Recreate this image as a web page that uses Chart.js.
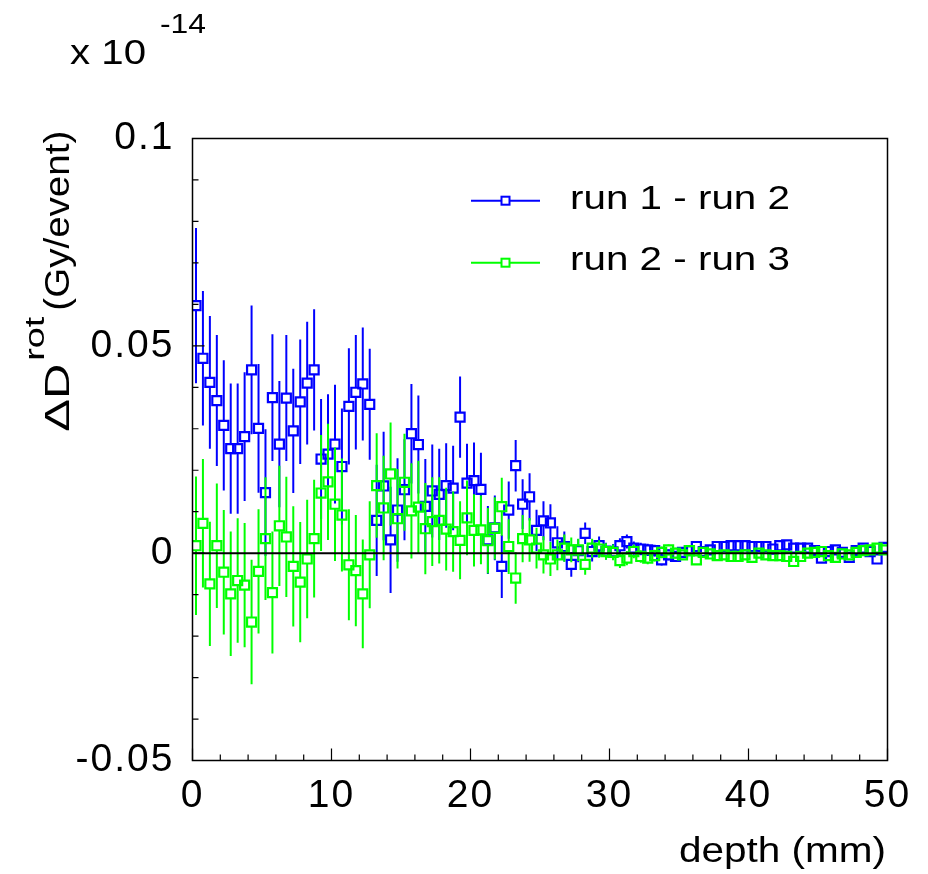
<!DOCTYPE html>
<html><head><meta charset="utf-8">
<script src="https://cdn.jsdelivr.net/npm/chart.js@4/dist/chart.umd.min.js"></script>
<style>html,body{margin:0;padding:0;background:#fff;}#wrap{width:928px;height:874px;}</style>
</head><body><div id="wrap"><canvas id="c" width="928" height="874"></canvas></div>
<script>
// bin centres (mm)
const depth = [0.25,0.75,1.25,1.75,2.25,2.75,3.25,3.75,4.25,4.75,5.25,5.75,6.25,6.75,7.25,7.75,8.25,8.75,9.25,9.75,
10.25,10.75,11.25,11.75,12.25,12.75,13.25,13.75,14.25,14.75,15.25,15.75,16.25,16.75,17.25,17.75,18.25,18.75,19.25,19.75,
20.25,20.75,21.25,21.75,22.25,22.75,23.25,23.75,24.25,24.75,25.25,25.75,26.25,26.75,27.25,27.75,28.25,28.75,29.25,29.75,
30.25,30.75,31.25,31.75,32.25,32.75,33.25,33.75,34.25,34.75,35.25,35.75,36.25,36.75,37.25,37.75,38.25,38.75,39.25,39.75,
40.25,40.75,41.25,41.75,42.25,42.75,43.25,43.75,44.25,44.75,45.25,45.75,46.25,46.75,47.25,47.75,48.25,48.75,49.25,49.75];

// run 1 - run 2 (x 1e-14 Gy/event)
const run12 = [0.0597,0.0470,0.0412,0.0368,0.0308,0.0252,0.0252,0.0281,0.0442,0.0301,
0.0146,0.0375,0.0263,0.0374,0.0295,0.0365,0.0410,0.0442,0.0227,0.0239,
0.0263,0.0209,0.0354,0.0388,0.0408,0.0359,0.0079,0.0162,0.0032,0.0104,
0.0153,0.0288,0.0262,0.0113,0.0150,0.0142,0.0163,0.0157,0.0328,0.0169,
0.0175,0.0154,0.0032,0.0061,-0.0032,0.0104,0.0211,0.0118,0.0136,0.0055,
0.0078,0.0073,0.0025,0.0016,-0.0027,0.0006,0.0048,0.0004,0.0018,0.0005,
0.0003,0.0018,0.0028,0.0012,0.0010,0.0008,0.0006,-0.0016,-0.0004,-0.0008,
0.0002,0.0006,0.0016,0.0004,0.0008,0.0016,0.0016,0.0018,0.0018,0.0018,
0.0016,0.0016,0.0016,0.0010,0.0018,0.0020,0.0012,0.0012,0.0012,0.0006,
-0.0012,0.0004,0.0008,0.0002,-0.0010,0.0006,0.0012,0.0004,-0.0014,0.0014];
const run12Err = [0.0187,0.0162,0.0160,0.0158,0.0157,0.0157,0.0157,0.0155,0.0155,0.0155,
0.0153,0.0153,0.0152,0.0152,0.0150,0.0150,0.0148,0.0146,0.0145,0.0144,
0.0143,0.0140,0.0140,0.0138,0.0136,0.0134,0.0134,0.0131,0.0128,0.0125,
0.0122,0.0120,0.0118,0.0114,0.0112,0.0110,0.0102,0.0102,0.0098,0.0095,
0.0092,0.0088,0.0082,0.0078,0.0076,0.0069,0.0062,0.0060,0.0057,0.0050,
0.0047,0.0045,0.0040,0.0036,0.0030,0.0028,0.0026,0.0024,0.0022,0.0020,
0.0019,0.0018,0.0017,0.0016,0.0015,0.0015,0.0014,0.0014,0.0013,0.0013,
0.0012,0.0012,0.0012,0.0011,0.0011,0.0011,0.0010,0.0010,0.0010,0.0010,
0.0010,0.0010,0.0010,0.0010,0.0010,0.0010,0.0010,0.0010,0.0010,0.0010,
0.0010,0.0010,0.0010,0.0010,0.0010,0.0010,0.0010,0.0010,0.0010,0.0010];

// run 2 - run 3 (x 1e-14 Gy/event)
const run23 = [0.0018,0.0072,-0.0074,0.0018,-0.0046,-0.0098,-0.0066,-0.0077,-0.0166,-0.0044,
0.0035,-0.0095,0.0066,0.0039,-0.0032,-0.0070,-0.0014,0.0035,0.0145,0.0172,
0.0118,0.0092,-0.0028,-0.0042,-0.0098,-0.0004,0.0163,0.0109,0.0191,0.0083,
0.0171,0.0102,0.0111,0.0059,0.0076,0.0079,0.0058,0.0052,0.0031,0.0085,
0.0055,0.0056,0.0030,0.0060,0.0112,0.0016,-0.0060,0.0035,0.0032,0.0012,
-0.0004,-0.0014,-0.0004,0.0012,0.0008,0.0008,-0.0027,0.0012,0.0010,0.0004,
0.0002,-0.0018,-0.0012,0.0004,-0.0008,-0.0012,-0.0006,0.0002,0.0008,0.0000,
-0.0004,0.0006,-0.0016,0.0002,-0.0002,-0.0006,-0.0004,-0.0008,-0.0008,-0.0004,
-0.0010,0.0000,-0.0004,-0.0006,-0.0006,-0.0008,-0.0020,-0.0008,0.0000,0.0002,
0.0004,-0.0006,-0.0010,-0.0002,-0.0004,0.0002,0.0006,0.0008,0.0012,0.0008];
const run23Err = [0.0167,0.0155,0.0150,0.0150,0.0150,0.0150,0.0150,0.0150,0.0150,0.0150,
0.0148,0.0147,0.0145,0.0145,0.0145,0.0145,0.0143,0.0142,0.0140,0.0140,
0.0137,0.0136,0.0134,0.0134,0.0131,0.0129,0.0126,0.0126,0.0124,0.0120,
0.0117,0.0115,0.0112,0.0110,0.0107,0.0104,0.0100,0.0097,0.0094,0.0090,
0.0087,0.0083,0.0079,0.0075,0.0070,0.0066,0.0062,0.0057,0.0053,0.0049,
0.0045,0.0041,0.0037,0.0033,0.0030,0.0027,0.0025,0.0023,0.0021,0.0020,
0.0019,0.0018,0.0017,0.0016,0.0015,0.0015,0.0014,0.0014,0.0013,0.0013,
0.0012,0.0012,0.0012,0.0011,0.0011,0.0011,0.0010,0.0010,0.0010,0.0010,
0.0010,0.0010,0.0010,0.0010,0.0010,0.0010,0.0010,0.0010,0.0010,0.0010,
0.0010,0.0010,0.0010,0.0010,0.0010,0.0010,0.0010,0.0010,0.0010,0.0010];

const seriesLabels = ['run 1 - run 2', 'run 2 - run 3'];
const xTickValues = [0, 10, 20, 30, 40, 50];
const xTickLabels = ['0', '10', '20', '30', '40', '50'];
const yTickValues = [-0.05, 0, 0.05, 0.1];
const yTickLabels = ['-0.05', '0', '0.05', '0.1'];

const BLUE = '#0000ff', GREEN = '#00ff00';
const FONT = '"Liberation Sans", Arial, Helvetica, sans-serif';
const MARK_R = 6.4;          // point radius for 'rect' style (side = 1.414 * r)
const MARK_HALF = MARK_R * Math.SQRT1_2;

function fitText(ctx, str, x, y, size, width, align) {
  ctx.save();
  ctx.font = size + 'px ' + FONT;
  ctx.letterSpacing = '0px';
  const w = ctx.measureText(str).width;
  const s = width / w;
  ctx.translate(x, y);
  ctx.scale(s, 1);
  ctx.textBaseline = 'alphabetic';
  ctx.textAlign = 'left';
  ctx.fillStyle = '#000';
  ctx.fillText(str, align === 'right' ? -w : 0, 0);
  ctx.restore();
}

const decor = {
  id: 'decor',
  beforeDraw(chart) {
    const ctx = chart.ctx;
    ctx.save(); ctx.fillStyle = '#fff'; ctx.fillRect(0, 0, chart.width, chart.height); ctx.restore();
    ctx.letterSpacing = '2px';
  },
  beforeDatasetDraw(chart, args) {
    const ds = chart.data.datasets[args.index];
    const errs = ds.errors;
    const ys = chart.scales.y;
    const a = chart.chartArea;
    const ctx = chart.ctx;
    ctx.save();
    ctx.beginPath(); ctx.rect(a.left, a.top, a.right - a.left, a.bottom - a.top); ctx.clip();
    ctx.strokeStyle = ds.borderColor; ctx.lineWidth = 2;
    const h = MARK_HALF;
    args.meta.data.forEach((pt, i) => {
      const v = ds.data[i].y, e = errs[i];
      const top = ys.getPixelForValue(v + e), bot = ys.getPixelForValue(v - e);
      ctx.beginPath();
      if (top < pt.y - h) { ctx.moveTo(pt.x, top); ctx.lineTo(pt.x, pt.y - h); }
      if (bot > pt.y + h) { ctx.moveTo(pt.x, pt.y + h); ctx.lineTo(pt.x, bot); }
      ctx.stroke();
    });
    ctx.restore();
  },
  afterDatasetsDraw(chart) {
    const ctx = chart.ctx, xs = chart.scales.x, ys = chart.scales.y;
    ctx.save();
    ctx.strokeStyle = '#000'; ctx.lineWidth = 2;
    ctx.beginPath();
    ctx.moveTo(xs.getPixelForValue(0), ys.getPixelForValue(0));
    ctx.lineTo(xs.getPixelForValue(50), ys.getPixelForValue(0));
    ctx.stroke();
    ctx.restore();
  },
  afterDraw(chart) {
    const ctx = chart.ctx, xs = chart.scales.x, ys = chart.scales.y, a = chart.chartArea;
    ctx.letterSpacing = '0px';
    ctx.save();
    ctx.strokeStyle = '#000'; ctx.lineWidth = 1.5;
    ctx.strokeRect(a.left, a.top, a.right - a.left, a.bottom - a.top);
    ctx.lineWidth = 1.2;
    ctx.beginPath();
    for (let v = 0; v <= 50.001; v += 2) {
      const px = xs.getPixelForValue(v);
      const len = (Math.abs(v % 10) < 1e-6) ? 12 : 6;
      ctx.moveTo(px, a.bottom); ctx.lineTo(px, a.bottom - len);
    }
    for (let k = -5; k <= 10; k++) {
      const v = k / 100;
      const py = ys.getPixelForValue(v);
      const len = (k % 5 === 0) ? 12 : 6;
      ctx.moveTo(a.left, py); ctx.lineTo(a.left + len, py);
    }
    ctx.stroke();
    ctx.restore();

    // legend
    const colors = [BLUE, GREEN];
    const legY = [200.7, 262.7];
    const legBase = [209.3, 270.3];
    for (let i = 0; i < 2; i++) {
      ctx.save();
      ctx.strokeStyle = colors[i]; ctx.lineWidth = 2;
      ctx.beginPath(); ctx.moveTo(471, legY[i]); ctx.lineTo(540, legY[i]); ctx.stroke();
      ctx.fillStyle = '#fff'; ctx.fillRect(501.5, legY[i] - 4, 8, 8);
      ctx.strokeRect(501.5, legY[i] - 4, 8, 8);
      ctx.restore();
      fitText(ctx, seriesLabels[i], 570, legBase[i], 34, 220, 'left');
    }

    // exponent
    fitText(ctx, 'x 10', 70, 64, 35, 76, 'left');
    fitText(ctx, '-14', 160, 32.5, 27, 46, 'left');

    // x title
    fitText(ctx, 'depth (mm)', 886, 862, 35, 207, 'right');

    // y title (rotated)
    ctx.save();
    ctx.translate(68.5, 431.7);
    ctx.rotate(-Math.PI / 2);
    fitText(ctx, '\u0394D', 0, 0, 35, 68, 'left');
    fitText(ctx, 'rot', 71, -25, 27, 44, 'left');
    fitText(ctx, '(Gy/event)', 121, 0, 35, 180, 'left');
    ctx.restore();
  }
};

const ctx = document.getElementById('c').getContext('2d');
new Chart(ctx, {
  type: 'scatter',
  data: {
    datasets: [
      { label: seriesLabels[0], data: depth.map((x, i) => ({ x: x, y: run12[i] })), errors: run12Err,
        borderColor: BLUE, backgroundColor: 'rgba(0,0,0,0)', pointStyle: 'rect', pointRadius: MARK_R,
        pointBorderWidth: 2.2, showLine: false, order: 2 },
      { label: seriesLabels[1], data: depth.map((x, i) => ({ x: x, y: run23[i] })), errors: run23Err,
        borderColor: GREEN, backgroundColor: 'rgba(0,0,0,0)', pointStyle: 'rect', pointRadius: MARK_R,
        pointBorderWidth: 2.2, showLine: false, order: 1 }
    ]
  },
  options: {
    responsive: false, animation: false, devicePixelRatio: 1,
    layout: { padding: { left: 0, right: 40.5, top: 138.5, bottom: 0 } },
    plugins: { legend: { display: false }, tooltip: { enabled: false }, title: { display: false } },
    scales: {
      x: {
        type: 'linear', min: 0, max: 50,
        afterFit(s) { s.height = 113.5; },
        afterBuildTicks(s) { s.ticks = xTickValues.map(v => ({ value: v })); },
        grid: { display: false, drawTicks: false }, border: { display: false },
        ticks: { padding: 12, autoSkip: false, maxRotation: 0, color: '#000',
          font: { family: FONT, size: 39 },
          callback: (v, i) => xTickLabels[i] }
      },
      y: {
        type: 'linear', min: -0.05, max: 0.1,
        afterFit(s) { s.width = 192.5; },
        afterBuildTicks(s) { s.ticks = yTickValues.map(v => ({ value: v })); },
        grid: { display: false, drawTicks: false }, border: { display: false },
        ticks: { padding: 18, autoSkip: false, color: '#000',
          font: { family: FONT, size: 39 },
          callback: (v, i) => yTickLabels[i] }
      }
    }
  },
  plugins: [decor]
});
</script></body></html>
